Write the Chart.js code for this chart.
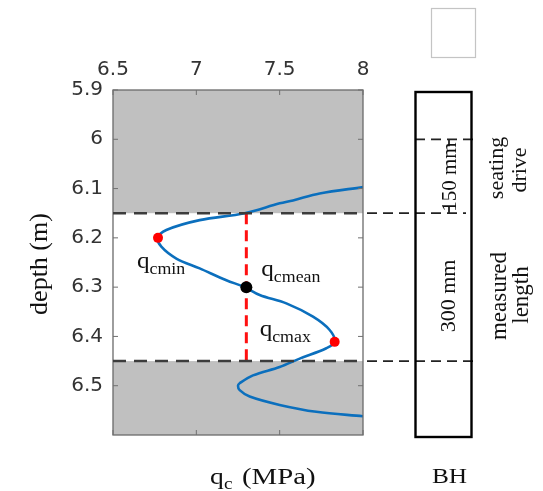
<!DOCTYPE html>
<html><head><meta charset="utf-8">
<script src="https://cdn.jsdelivr.net/npm/chart.js@4.4.0/dist/chart.umd.min.js"></script>
<style>html,body{margin:0;padding:0;background:#fff;overflow:hidden}</style>
</head><body>
<canvas id="c" width="543" height="491" style="display:block;width:543px;height:491px"></canvas>
<script>
// cone resistance trace (qc, MPa) vs depth (m)
const qcTrace    = [8.00, 7.74, 7.58, 7.50, 7.29, 7.02, 6.82, 6.77, 6.79, 6.88, 7.02, 7.18, 7.29, 7.38, 7.54, 7.70, 7.80, 7.83, 7.78, 7.62, 7.50, 7.34, 7.26, 7.25, 7.26, 7.32, 7.50, 7.72, 8.00];
const depthTrace = [6.097, 6.110, 6.124, 6.130, 6.150, 6.164, 6.184, 6.200, 6.218, 6.242, 6.262, 6.286, 6.300, 6.316, 6.333, 6.360, 6.387, 6.411, 6.424, 6.445, 6.462, 6.479, 6.495, 6.500, 6.509, 6.522, 6.539, 6.553, 6.562];
// characteristic points
const markerNames = ['cmin', 'cmean', 'cmax'];
const markerQc    = [6.77, 7.30, 7.83];
const markerDepth = [6.200, 6.300, 6.411];
// zones
const seatingTop = 6.00, measuredTop = 6.15, measuredBottom = 6.45;
const meanQc = 7.30;
// ticks
const xTicks = [6.5, 7, 7.5, 8];
const yTicks = [5.9, 6.0, 6.1, 6.2, 6.3, 6.4, 6.5];
const xRange = [6.5, 8], yRange = [5.9, 6.6];

const trace = qcTrace.map((q, i) => ({x: q, y: depthTrace[i]}));
const pt = i => ({x: markerQc[i], y: markerDepth[i]});

function stretchText(ctx, txt, x, y, font, align, sx) {
  ctx.save();
  ctx.translate(x, y);
  ctx.scale(sx, 1);
  ctx.font = font;
  ctx.textAlign = align;
  ctx.textBaseline = 'alphabetic';
  ctx.fillText(txt, 0, 0);
  ctx.restore();
}
function rotText(ctx, txt, x, y, font) {
  ctx.save();
  ctx.translate(x, y);
  ctx.rotate(-Math.PI / 2);
  ctx.font = font;
  ctx.textAlign = 'center';
  ctx.textBaseline = 'alphabetic';
  ctx.fillText(txt, 0, 0);
  ctx.restore();
}
function line(ctx, x1, y1, x2, y2) {
  ctx.beginPath(); ctx.moveTo(x1, y1); ctx.lineTo(x2, y2); ctx.stroke();
}

const deco = {
  id: 'deco',
  beforeDatasetsDraw(chart) {
    const {ctx, chartArea: a, scales: {y}} = chart;
    ctx.save();
    ctx.fillStyle = '#c0c0c0';
    const yt = y.getPixelForValue(measuredTop);
    const yb = y.getPixelForValue(measuredBottom);
    ctx.fillRect(a.left, a.top, a.width, yt - a.top);
    ctx.fillRect(a.left, yb, a.width, a.bottom - yb);
    ctx.restore();
  },
  afterDatasetsDraw(chart) {
    const {ctx, chartArea: a, scales: {x, y}} = chart;
    ctx.save();
    // plot frame
    ctx.strokeStyle = '#6a6a6a';
    ctx.lineWidth = 1.3;
    ctx.strokeRect(a.left, a.top, a.width, a.height);
    // inner ticks
    ctx.lineWidth = 1;
    ctx.strokeStyle = '#707070';
    xTicks.forEach(v => {
      const px = x.getPixelForValue(v);
      line(ctx, px, a.top, px, a.top + 5);
      line(ctx, px, a.bottom, px, a.bottom - 5);
    });
    yTicks.forEach(v => {
      const py = y.getPixelForValue(v);
      line(ctx, a.left, py, a.left + 5, py);
      line(ctx, a.right, py, a.right - 5, py);
    });
    // zone boundaries (dashed)
    const yt = y.getPixelForValue(measuredTop);
    const yb = y.getPixelForValue(measuredBottom);
    const ys = y.getPixelForValue(seatingTop);
    ctx.strokeStyle = '#3c3c3c';
    ctx.lineWidth = 2.6;
    ctx.setLineDash([13, 8]);
    line(ctx, a.left, yt, a.right, yt);
    line(ctx, a.left, yb, a.right, yb);
    ctx.strokeStyle = '#222';
    ctx.lineWidth = 1.8;
    ctx.setLineDash([10, 6]);
    line(ctx, a.right + 4, yt, 466, yt);
    line(ctx, a.right + 4, yb, 474, yb);
    line(ctx, 415, ys, 473, ys);
    // small dimension marks near "150 mm"
    ctx.setLineDash([7, 5]);
    line(ctx, 449, ys, 449, ys + 8);
    line(ctx, 449, yt - 7, 449, yt);
    ctx.setLineDash([]);
    // BH box
    ctx.strokeStyle = '#000';
    ctx.lineWidth = 2.4;
    ctx.strokeRect(415.5, y.getPixelForValue(yRange[0]) + 2, 56, y.getPixelForValue(yRange[1]) - y.getPixelForValue(yRange[0]));
    ctx.restore();
  },
  afterDraw(chart) {
    const {ctx, scales: {x, y}} = chart;
    ctx.save();
    ctx.fillStyle = '#111';
    const serif = '"Liberation Serif", "Times New Roman", serif';
    // marker labels
    const offs = [[-21, 30], [15, -11], [-75, -6]];
    markerNames.forEach((n, i) => {
      const px = x.getPixelForValue(markerQc[i]) + offs[i][0];
      const py = y.getPixelForValue(markerDepth[i]) + offs[i][1];
      stretchText(ctx, 'q', px, py, '24px ' + serif, 'left', 1.05);
      stretchText(ctx, n, px + 12.5, py + 6, '17px ' + serif, 'left', 1.05);
    });
    // axis titles
    rotText(ctx, 'depth (m)', 47, 264, '26px ' + serif);
    stretchText(ctx, 'q', 210, 484, '23px ' + serif, 'left', 1.2);
    stretchText(ctx, 'c', 224, 489, '16px ' + serif, 'left', 1.2);
    stretchText(ctx, '(MPa)', 242, 484, '23px ' + serif, 'left', 1.25);
    stretchText(ctx, 'BH', 449.5, 483, '22px ' + serif, 'center', 1.15);
    // BH annotations
    ctx.save();
    ctx.fillStyle = '#fff';
    ctx.fillRect(441, 149, 15, 56);
    ctx.restore();
    rotText(ctx, '150 mm', 456, 177, '21px ' + serif);
    rotText(ctx, '300 mm', 455, 296, '22px ' + serif);
    rotText(ctx, 'seating', 503, 168, '22px ' + serif);
    rotText(ctx, 'drive', 526, 170, '22px ' + serif);
    rotText(ctx, 'measured', 506, 296, '23px ' + serif);
    rotText(ctx, 'length', 528, 295, '23px ' + serif);
    // empty box top right
    ctx.strokeStyle = '#c4c4c4';
    ctx.lineWidth = 1.2;
    ctx.strokeRect(431.5, 8.5, 44, 49);
    ctx.restore();
  }
};

const fmt = v => String(+(+v).toFixed(2));

new Chart(document.getElementById('c'), {
  type: 'scatter',
  data: {
    datasets: [
      {data: trace, showLine: true, borderColor: '#0b6fbd', borderWidth: 2.6, pointRadius: 0, tension: 0.35, order: 3},
      {data: [{x: meanQc, y: measuredTop}, {x: meanQc, y: measuredBottom}], showLine: true, borderColor: '#ff1010', borderWidth: 3, borderDash: [11, 6], pointRadius: 0, order: 2},
      {data: [pt(0), pt(2)], pointRadius: 5, backgroundColor: '#ff0000', borderWidth: 0, order: 1},
      {data: [pt(1)], pointRadius: 6, backgroundColor: '#000000', borderWidth: 0, order: 1}
    ]
  },
  options: {
    responsive: false,
    animation: false,
    events: [],
    layout: {padding: {left: 0, top: 0, right: 180, bottom: 56}},
    plugins: {legend: {display: false}, tooltip: {enabled: false}},
    scales: {
      x: {
        type: 'linear', position: 'top', min: xRange[0], max: xRange[1],
        afterBuildTicks: s => { s.ticks = xTicks.map(v => ({value: v})); },
        afterFit: s => { s.height = 90; },
        grid: {display: false, drawTicks: false}, border: {display: false},
        ticks: {font: {family: 'DejaVu Sans', size: 20}, color: '#333', padding: 8, maxRotation: 0, autoSkip: false, callback: fmt}
      },
      y: {
        type: 'linear', reverse: true, min: yRange[0], max: yRange[1],
        afterBuildTicks: s => { s.ticks = yTicks.map(v => ({value: v})); },
        afterFit: s => { s.width = 113; },
        grid: {display: false, drawTicks: false}, border: {display: false},
        ticks: {font: {family: 'DejaVu Sans', size: 20}, color: '#333', padding: 10, autoSkip: false, callback: fmt}
      }
    }
  },
  plugins: [deco]
});
</script>
</body></html>
